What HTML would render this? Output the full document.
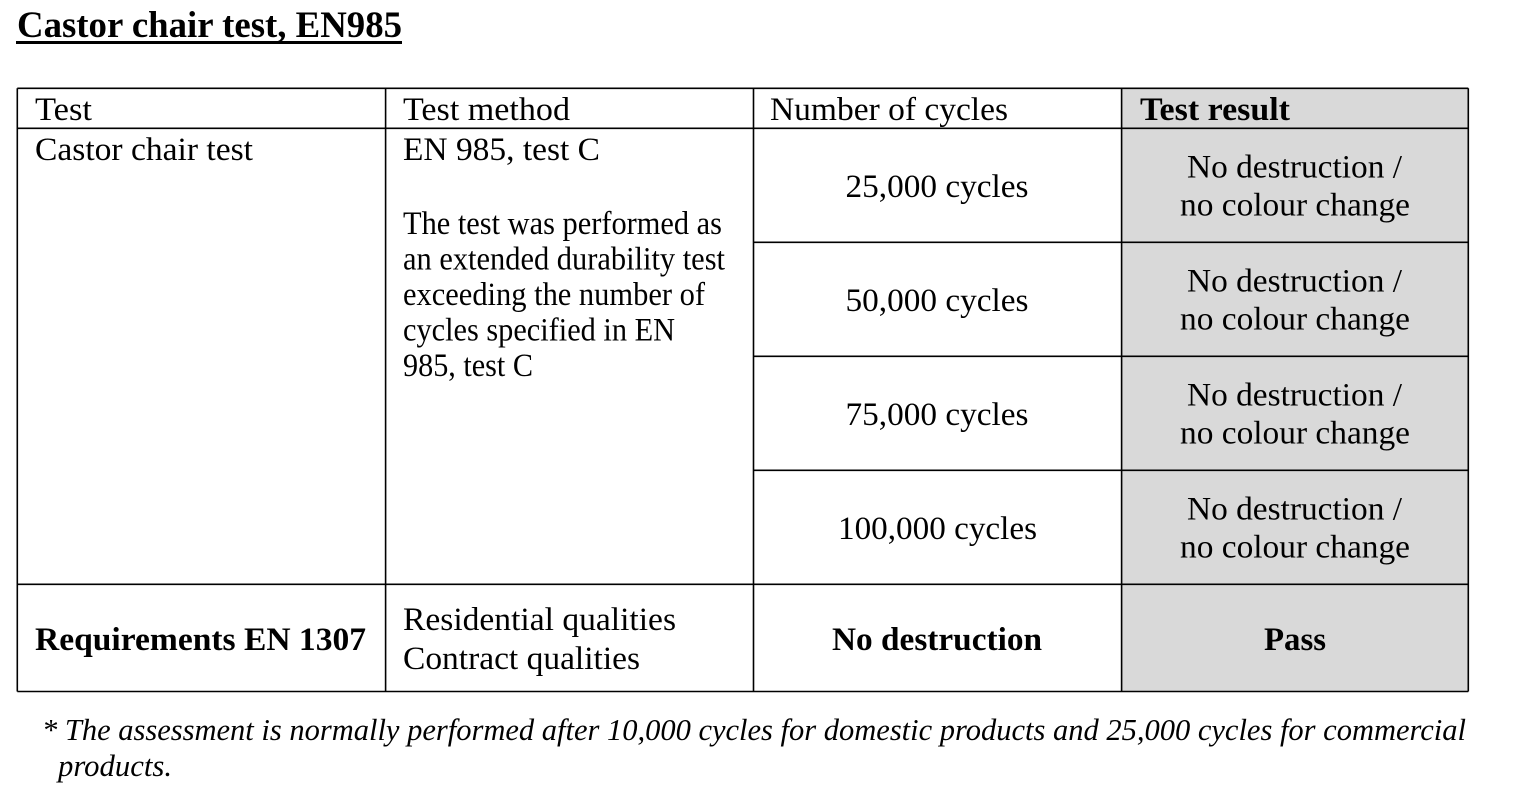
<!DOCTYPE html>
<html><head><meta charset="utf-8"><style>
html,body{margin:0;padding:0;background:#fff;}
svg{display:block;}
text{font-family:"Liberation Serif","Times New Roman",serif;fill:#000;}
.r{font-size:33px;}
.b{font-size:33px;font-weight:bold;}
.i{font-size:31px;font-style:italic;}
</style></head><body>
<svg width="1536" height="804" viewBox="0 0 1536 804" xmlns="http://www.w3.org/2000/svg">
<rect x="0" y="0" width="1536" height="804" fill="#fff"/>
<!-- title -->
<text x="17" y="37" font-size="37" font-weight="bold" textLength="385" lengthAdjust="spacingAndGlyphs">Castor chair test, EN985</text>
<rect x="16" y="41" width="386" height="3" fill="#000"/>
<!-- gray column -->
<rect x="1121.5" y="88.3" width="347" height="603.4" fill="#d9d9d9"/>
<!-- grid lines -->
<g stroke="#000" stroke-width="1.6">
<line x1="17.3" y1="88.3" x2="1468.3" y2="88.3"/>
<line x1="17.3" y1="128.3" x2="1468.3" y2="128.3"/>
<line x1="753.5" y1="242.3" x2="1468.3" y2="242.3"/>
<line x1="753.5" y1="356.3" x2="1468.3" y2="356.3"/>
<line x1="753.5" y1="470.3" x2="1468.3" y2="470.3"/>
<line x1="17.3" y1="584.3" x2="1468.3" y2="584.3"/>
<line x1="17.3" y1="691.5" x2="1468.3" y2="691.5"/>
<line x1="17.3" y1="88.3" x2="17.3" y2="691.5"/>
<line x1="385.6" y1="88.3" x2="385.6" y2="691.5"/>
<line x1="753.5" y1="88.3" x2="753.5" y2="691.5"/>
<line x1="1121.6" y1="88.3" x2="1121.6" y2="691.5"/>
<line x1="1468.3" y1="88.3" x2="1468.3" y2="691.5"/>
</g>
<!-- header -->
<text class="r" x="35" y="120" textLength="57" lengthAdjust="spacingAndGlyphs">Test</text>
<text class="r" x="403" y="120" textLength="167" lengthAdjust="spacingAndGlyphs">Test method</text>
<text class="r" x="770" y="120" textLength="238" lengthAdjust="spacingAndGlyphs">Number of cycles</text>
<text class="b" x="1140" y="120" textLength="150" lengthAdjust="spacingAndGlyphs">Test result</text>
<!-- body col 1/2 -->
<text class="r" x="35" y="160" textLength="218" lengthAdjust="spacingAndGlyphs">Castor chair test</text>
<text class="r" x="403" y="160" textLength="197" lengthAdjust="spacingAndGlyphs">EN 985, test C</text>
<text class="r" x="403" y="234" textLength="319" lengthAdjust="spacingAndGlyphs">The test was performed as</text>
<text class="r" x="403" y="269.5" textLength="322" lengthAdjust="spacingAndGlyphs">an extended durability test</text>
<text class="r" x="403" y="305" textLength="302" lengthAdjust="spacingAndGlyphs">exceeding the number of</text>
<text class="r" x="403" y="340.5" textLength="272" lengthAdjust="spacingAndGlyphs">cycles specified in EN</text>
<text class="r" x="403" y="376" textLength="130" lengthAdjust="spacingAndGlyphs">985, test C</text>
<!-- cycles -->
<text class="r" x="845.5" y="197" textLength="183" lengthAdjust="spacingAndGlyphs">25,000 cycles</text>
<text class="r" x="845.5" y="311" textLength="183" lengthAdjust="spacingAndGlyphs">50,000 cycles</text>
<text class="r" x="845.5" y="425" textLength="183" lengthAdjust="spacingAndGlyphs">75,000 cycles</text>
<text class="r" x="838" y="539" textLength="199" lengthAdjust="spacingAndGlyphs">100,000 cycles</text>
<!-- results -->
<g>
<text class="r" x="1187" y="177.5" textLength="215" lengthAdjust="spacingAndGlyphs">No destruction /</text>
<text class="r" x="1180" y="215.5" textLength="230" lengthAdjust="spacingAndGlyphs">no colour change</text>
<text class="r" x="1187" y="291.5" textLength="215" lengthAdjust="spacingAndGlyphs">No destruction /</text>
<text class="r" x="1180" y="329.5" textLength="230" lengthAdjust="spacingAndGlyphs">no colour change</text>
<text class="r" x="1187" y="405.5" textLength="215" lengthAdjust="spacingAndGlyphs">No destruction /</text>
<text class="r" x="1180" y="443.5" textLength="230" lengthAdjust="spacingAndGlyphs">no colour change</text>
<text class="r" x="1187" y="519.5" textLength="215" lengthAdjust="spacingAndGlyphs">No destruction /</text>
<text class="r" x="1180" y="557.5" textLength="230" lengthAdjust="spacingAndGlyphs">no colour change</text>
</g>
<!-- requirements row -->
<text class="b" x="35" y="650" textLength="331" lengthAdjust="spacingAndGlyphs">Requirements EN 1307</text>
<text class="r" x="403" y="630" textLength="273" lengthAdjust="spacingAndGlyphs">Residential qualities</text>
<text class="r" x="403" y="669" textLength="237" lengthAdjust="spacingAndGlyphs">Contract qualities</text>
<text class="b" x="832" y="650" textLength="210" lengthAdjust="spacingAndGlyphs">No destruction</text>
<text class="b" x="1264" y="650" textLength="62" lengthAdjust="spacingAndGlyphs">Pass</text>
<!-- footnote -->
<text class="i" x="42" y="740" textLength="1424" lengthAdjust="spacingAndGlyphs">* The assessment is normally performed after 10,000 cycles for domestic products and 25,000 cycles for commercial</text>
<text class="i" x="58" y="776" textLength="114" lengthAdjust="spacingAndGlyphs">products.</text>
</svg>
</body></html>
